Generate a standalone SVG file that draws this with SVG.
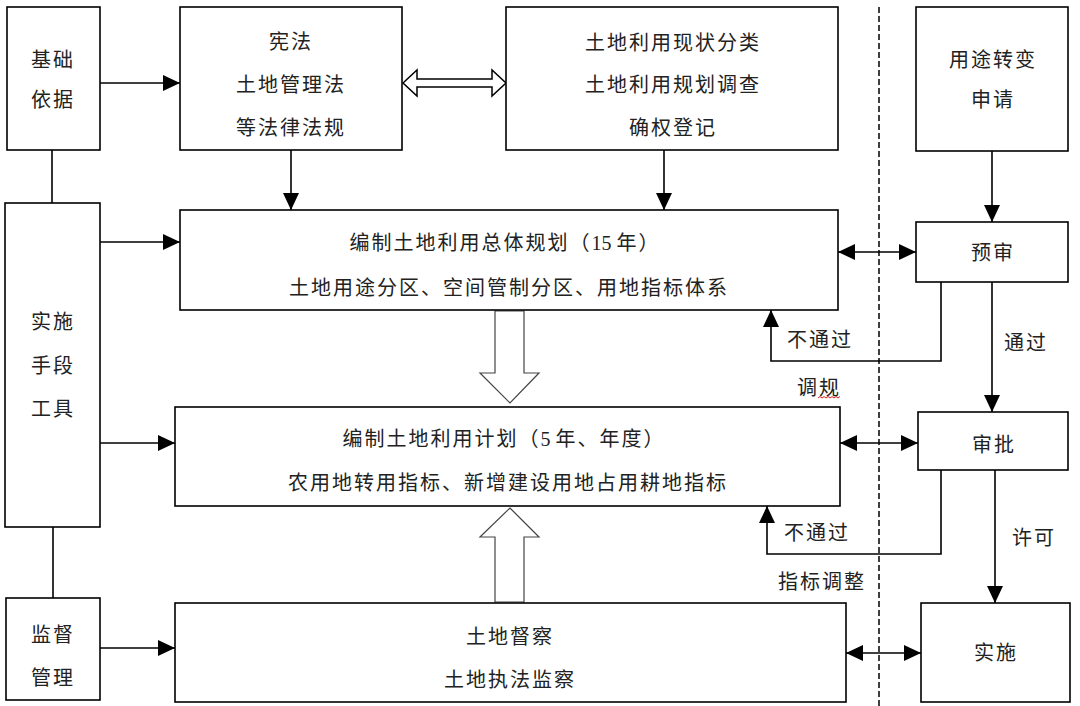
<svg xmlns="http://www.w3.org/2000/svg" width="1080" height="706" viewBox="0 0 1080 706">
<style>
.box{fill:#fff;stroke:#000;stroke-width:1.6}
.t{font-family:"Liberation Serif","Noto Sans CJK SC",serif;font-size:20px;fill:#222;text-anchor:middle;dominant-baseline:central;letter-spacing:2px}
.n{letter-spacing:0px}
.c{fill:none;stroke:#000;stroke-width:1.6}
.hollow{fill:#fff;stroke:#444;stroke-width:1.2}
</style>
<defs>
<marker id="ah" markerUnits="userSpaceOnUse" markerWidth="17" markerHeight="17" refX="17" refY="8" orient="auto-start-reverse">
<path d="M0,0 L17,8 L0,16 z" fill="#000"/>
</marker>
</defs>
<rect width="1080" height="706" fill="#fff"/>

<g id="connectors">
<line x1="879" y1="7" x2="879" y2="706" stroke="#000" stroke-width="1.5" stroke-dasharray="6 3"/>
<line class="c" x1="100" y1="83" x2="180" y2="83" marker-end="url(#ah)"/>
<line class="c" x1="52" y1="150" x2="52" y2="203"/>
<line class="c" x1="100" y1="242" x2="180" y2="242" marker-end="url(#ah)"/>
<line class="c" x1="100" y1="443" x2="175" y2="443" marker-end="url(#ah)"/>
<line class="c" x1="53" y1="527" x2="53" y2="598"/>
<line class="c" x1="100" y1="648" x2="175" y2="648" marker-end="url(#ah)"/>
<line class="c" x1="291" y1="150" x2="291" y2="210" marker-end="url(#ah)"/>
<line class="c" x1="664" y1="150" x2="664" y2="210" marker-end="url(#ah)"/>
<polygon points="403,83 417,70 417,79 492,79 492,70 506,83 492,96 492,87 417,87 417,96" fill="#fff" stroke="#000" stroke-width="1.5"/>
<line class="c" x1="992" y1="151" x2="992" y2="222" marker-end="url(#ah)"/>
<line class="c" x1="838" y1="252" x2="916" y2="252" marker-start="url(#ah)" marker-end="url(#ah)"/>
<polyline class="c" points="941,282 941,361 771,361 771,310" marker-end="url(#ah)"/>
<line class="c" x1="992" y1="282" x2="992" y2="412" marker-end="url(#ah)"/>
<line class="c" x1="840" y1="443" x2="918" y2="443" marker-start="url(#ah)" marker-end="url(#ah)"/>
<polyline class="c" points="941,470 941,554 767,554 767,506" marker-end="url(#ah)"/>
<line class="c" x1="995" y1="470" x2="995" y2="603" marker-end="url(#ah)"/>
<line class="c" x1="846" y1="653" x2="921" y2="653" marker-start="url(#ah)" marker-end="url(#ah)"/>
<polygon class="hollow" points="495,311 524,311 524,373 539,373 510,403 480,373 495,373"/>
<polygon class="hollow" points="495,602 524,602 524,537 539,537 510,508 480,537 495,537"/>
<text class="t" x="820" y="340">不通过</text>
<text class="t" x="1026" y="343">通过</text>
<text class="t" x="819" y="388">调规</text>
<path d="M818,398 l2,-1.5 l2,1.5 l2,-1.5 l2,1.5 l2,-1.5 l2,1.5 l2,-1.5 l2,1.5 l2,-1.5 l2,1.5 l2,-1.5" fill="none" stroke="#e02020" stroke-width="1"/>
<text class="t" x="817" y="533">不通过</text>
<text class="t" x="822" y="582">指标调整</text>
<text class="t" x="1034" y="538">许可</text>
</g>

<g id="jichu">
<rect class="box" x="7" y="7" width="93" height="143"/>
<text class="t" x="53" y="60">基础</text>
<text class="t" x="53" y="100">依据</text>
</g>
<g id="xianfa">
<rect class="box" x="180" y="7" width="222" height="143"/>
<text class="t" x="291" y="42">宪法</text>
<text class="t" x="291" y="85">土地管理法</text>
<text class="t" x="291" y="128">等法律法规</text>
</g>
<g id="xianzhuang">
<rect class="box" x="506" y="7" width="332" height="143"/>
<text class="t" x="673" y="43">土地利用现状分类</text>
<text class="t" x="673" y="85">土地利用规划调查</text>
<text class="t" x="673" y="128">确权登记</text>
</g>
<g id="shenqing">
<rect class="box" x="916" y="7" width="152" height="144"/>
<text class="t" x="993" y="60">用途转变</text>
<text class="t" x="993" y="100">申请</text>
</g>
<g id="shishi-gongju">
<rect class="box" x="5" y="203" width="95" height="324"/>
<text class="t" x="53" y="322">实施</text>
<text class="t" x="53" y="366">手段</text>
<text class="t" x="53" y="409">工具</text>
</g>
<g id="zongti">
<rect class="box" x="180" y="210" width="658" height="100"/>
<text class="t" x="505" y="243">编制土地利用总体规划（<tspan class="n">15 </tspan>年）</text>
<text class="t" x="509" y="288">土地用途分区、空间管制分区、用地指标体系</text>
</g>
<g id="yushen">
<rect class="box" x="916" y="222" width="152" height="60"/>
<text class="t" x="993" y="253">预审</text>
</g>
<g id="jihua">
<rect class="box" x="175" y="407" width="665" height="99"/>
<text class="t" x="504" y="439">编制土地利用计划（<tspan class="n">5 </tspan>年、年度）</text>
<text class="t" x="508" y="483">农用地转用指标、新增建设用地占用耕地指标</text>
</g>
<g id="shenpi">
<rect class="box" x="918" y="412" width="150" height="58"/>
<text class="t" x="994" y="445">审批</text>
</g>
<g id="jiandu">
<rect class="box" x="6" y="598" width="94" height="102"/>
<text class="t" x="53" y="635">监督</text>
<text class="t" x="53" y="678">管理</text>
</g>
<g id="ducha">
<rect class="box" x="175" y="603" width="671" height="99"/>
<text class="t" x="510" y="637">土地督察</text>
<text class="t" x="510" y="680">土地执法监察</text>
</g>
<g id="shishi">
<rect class="box" x="921" y="603" width="149" height="99"/>
<text class="t" x="996" y="653">实施</text>
</g>
</svg>
